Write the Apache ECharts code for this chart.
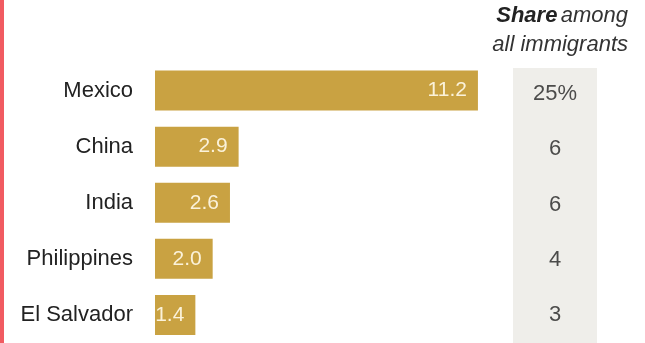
<!DOCTYPE html>
<html>
<head>
<meta charset="utf-8">
<script src="https://cdn.jsdelivr.net/npm/echarts@6/dist/echarts.min.js"></script>
<style>
html,body{margin:0;padding:0;background:#fff;}
#chart{width:645px;height:343px;}
</style>
</head>
<body>
<div id="chart"></div>
<script>
const countries = ['Mexico', 'China', 'India', 'Philippines', 'El Salvador'];
const immigrantsMillions = [11.2, 2.9, 2.6, 2.0, 1.4];
const shareLabels = ['25%', '6', '6', '4', '3'];

const FONT = '"Liberation Sans", Arial, sans-serif';
const chart = echarts.init(document.getElementById('chart'), null, {renderer: 'canvas'});

chart.setOption({
  animation: false,
  backgroundColor: '#ffffff',
  graphic: [
    {type: 'rect', left: 0, top: 0, shape: {width: 4, height: 343}, style: {fill: '#f15b61'}, z: 10},
    {type: 'rect', left: 513, top: 68, shape: {width: 84, height: 275}, style: {fill: '#efeeea'}, z: -1},
    {type: 'text', right: 17, top: 5, z: 10, style: {
      text: '{b|Share} {i|among}', align: 'right',
      rich: {
        b: {fontFamily: FONT, fontSize: 22, fontWeight: 'bold', fontStyle: 'italic', fill: '#222'},
        i: {fontFamily: FONT, fontSize: 22, fontStyle: 'italic', fill: '#333'}
      }
    }},
    {type: 'text', right: 17, top: 34, z: 10, style: {
      text: 'all immigrants', fontFamily: FONT, fontSize: 22, fontStyle: 'italic', fill: '#333'
    }}
  ],
  grid: [
    {left: 155, top: 62.5, width: 346, height: 280.5},
    {left: 513, top: 66, width: 84, height: 281}
  ],
  xAxis: [
    {type: 'value', gridIndex: 0, min: 0, max: 12, show: false},
    {type: 'value', gridIndex: 1, min: 0, max: 1, show: false}
  ],
  yAxis: [
    {type: 'category', gridIndex: 0, data: countries, inverse: true,
     axisLine: {show: false}, axisTick: {show: false}, splitLine: {show: false},
     axisLabel: {margin: 22, fontFamily: FONT, fontSize: 22, color: '#222'}},
    {type: 'category', gridIndex: 1, data: countries, inverse: true, show: false}
  ],
  series: [
    {
      type: 'bar', xAxisIndex: 0, yAxisIndex: 0,
      data: immigrantsMillions, barWidth: 40,
      itemStyle: {color: '#c9a242'},
      label: {show: true, position: 'insideRight', distance: 11,
        formatter: p => p.value.toFixed(1),
        fontFamily: FONT, fontSize: 21, color: '#fbf2da'}
    },
    {
      type: 'scatter', xAxisIndex: 1, yAxisIndex: 1,
      data: shareLabels.map((s, i) => [0.5, i]),
      symbolSize: 0,
      label: {show: true, position: 'inside',
        formatter: p => shareLabels[p.dataIndex],
        fontFamily: FONT, fontSize: 22, color: '#222'}
    }
  ]
});
</script>
</body>
</html>
